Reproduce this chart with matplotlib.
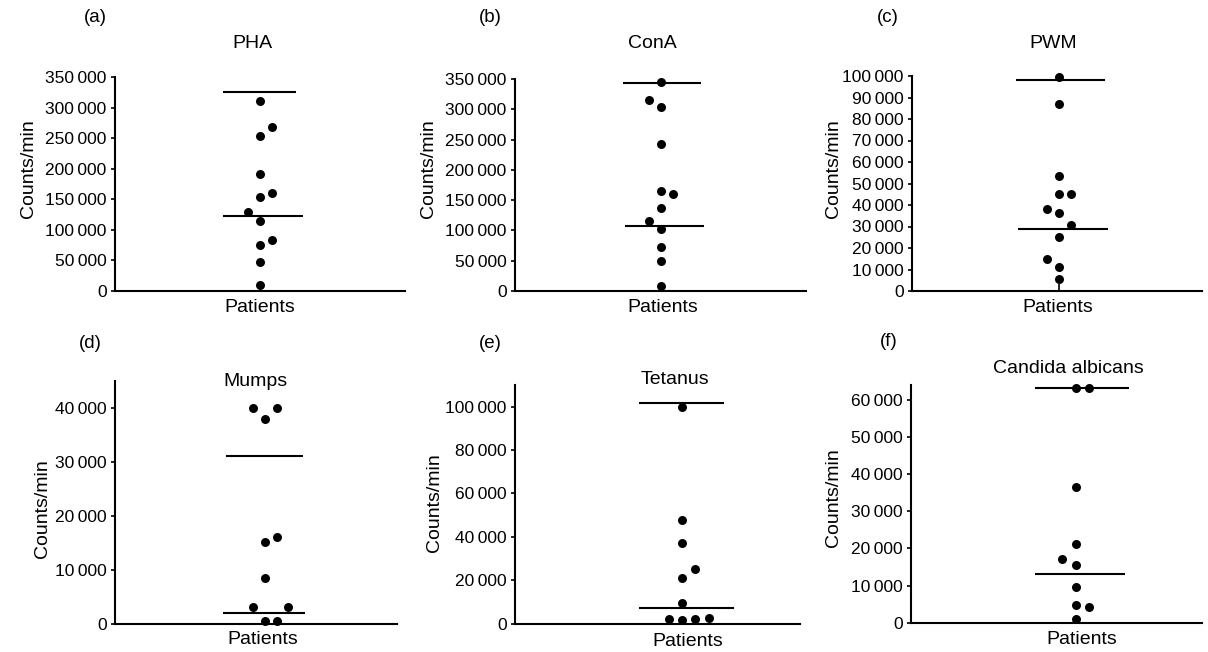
import matplotlib
matplotlib.use("Agg")
import matplotlib.pyplot as plt
import numpy as np

plt.rcParams['font.family'] = ['Liberation Sans', 'DejaVu Sans']

# ---------------- data ----------------
panel_letters = ["(a)", "(b)", "(c)", "(d)", "(e)", "(f)"]
titles = ["PHA", "ConA", "PWM", "Mumps", "Tetanus", "Candida albicans"]
group_label = "Patients"
y_label = "Counts/min"

pha_values = [311000, 269000, 254000, 191000, 160000, 153000, 129000, 115000, 83500, 76000, 47000, 10000]
pha_cols = [0, 1, 0, 0, 1, 0, -1, 0, 1, 0, 0, 0]
pha_lines = [325000, 123000]

cona_values = [345000, 316000, 303000, 243000, 165000, 160000, 137000, 116000, 102000, 73000, 50000, 8000]
cona_cols = [0, -1, 0, 0, 0, 1, 0, -1, 0, 0, 0, 0]
cona_lines = [343000, 108000]

pwm_values = [99400, 87000, 53500, 45000, 45000, 38000, 36500, 30700, 25000, 14900, 11000, 5400]
pwm_cols = [0, 0, 0, 0, 1, -1, 0, 1, 0, -1, 0, 0]
pwm_lines = [98000, 28700]

mumps_values = [40000, 40000, 38000, 16000, 15200, 8500, 3000, 3100, 500, 500]
mumps_cols = [-1, 1, 0, 1, 0, 0, -1, 2, 0, 1]
mumps_lines = [31000, 2000]

tetanus_values = [100000, 47900, 36900, 25000, 20800, 9300, 2000, 1500, 2300, 2600]
tetanus_cols = [0, 0, 0, 1, 0, 0, -1, 0, 1, 2]
tetanus_lines = [101500, 7300]

candida_values = [63200, 63200, 36600, 21100, 17250, 15450, 9600, 4900, 4200, 1100]
candida_cols = [0, 1, 0, 0, -1, 0, 0, 0, 1, 0]
candida_lines = [63200, 13000]

pha_ticks = [0, 50000, 100000, 150000, 200000, 250000, 300000, 350000]
cona_ticks = [0, 50000, 100000, 150000, 200000, 250000, 300000, 350000]
pwm_ticks = [0, 10000, 20000, 30000, 40000, 50000, 60000, 70000, 80000, 90000, 100000]
mumps_ticks = [0, 10000, 20000, 30000, 40000]
tetanus_ticks = [0, 20000, 40000, 60000, 80000, 100000]
candida_ticks = [0, 10000, 20000, 30000, 40000, 50000, 60000]

# ---------------- layout (pixels) ----------------
W, H = 1208, 652
fig = plt.figure(figsize=(W / 100, H / 100), dpi=100)

def fx(px):
    return px / W

def fy(py):
    return 1 - py / H

panels = [
    dict(vals=pha_values, cols=pha_cols, lines=pha_lines, ticks=pha_ticks, ymax=350000,
         left=115, right=405, top=77, bottom=291, center=260, sp=11.7,
         lext=[(-3.2, 3.1), (-3.2, 3.66)],
         title=(252, 43), letter=(95, 18), ylab=(28, 169), pat=(260, 307)),
    dict(vals=cona_values, cols=cona_cols, lines=cona_lines, ticks=cona_ticks, ymax=350000,
         left=515, right=806, top=79, bottom=291, center=660.7, sp=12,
         lext=[(-3.17, 3.36), (-2.97, 3.61)],
         title=(652, 43), letter=(490, 18), ylab=(428, 169), pat=(663, 307)),
    dict(vals=pwm_values, cols=pwm_cols, lines=pwm_lines, ticks=pwm_ticks, ymax=100000,
         left=912, right=1202, top=76, bottom=291, center=1059, sp=12,
         lext=[(-3.56, 3.83), (-3.42, 4.08)],
         title=(1053, 43), letter=(888, 18), ylab=(833, 169), pat=(1058, 307)),
    dict(vals=mumps_values, cols=mumps_cols, lines=mumps_lines, ticks=mumps_ticks, ymax=45000,
         left=115, right=397, top=381, bottom=623.5, center=265, sp=11.7,
         lext=[(-3.34, 3.23), (-3.63, 3.43)],
         title=(255, 381), letter=(90, 343), ylab=(42, 509), pat=(263, 639)),
    dict(vals=tetanus_values, cols=tetanus_cols, lines=tetanus_lines, ticks=tetanus_ticks, ymax=110000,
         left=515, right=800, top=385, bottom=623.5, center=682, sp=13.3,
         lext=[(-3.25, 3.13), (-3.23, 3.9)],
         title=(675, 379), letter=(490, 343), ylab=(435, 503), pat=(688, 641)),
    dict(vals=candida_values, cols=candida_cols, lines=candida_lines, ticks=candida_ticks, ymax=64000,
         left=911, right=1202, top=385, bottom=622.7, center=1075.7, sp=13.3,
         lext=[(-3.05, 4.03), (-3.05, 3.7)],
         title=(1068, 369), letter=(889, 341), ylab=(833, 498), pat=(1082, 639)),
]

def fmt(v):
    s = f"{int(v):,}"
    return s.replace(",", "\u2009")

for i, p in enumerate(panels):
    ax = fig.add_axes([fx(p['left']), fy(p['bottom']),
                       fx(p['right'] - p['left']), (p['bottom'] - p['top']) / H])
    xl = (p['left'] - p['center']) / p['sp']
    xr = (p['right'] - p['center']) / p['sp']
    ax.set_xlim(xl, xr)
    ax.set_ylim(0, p['ymax'])
    ax.scatter(p['cols'], p['vals'], s=42, color='black', zorder=3, linewidths=0, clip_on=False)
    for val, (a, b) in zip(p['lines'], p['lext']):
        ax.plot([a, b], [val, val], color='black', lw=1.5, solid_capstyle='butt', zorder=2, clip_on=False)
    for side in ['top', 'right']:
        ax.spines[side].set_visible(False)
    for side in ['left', 'bottom']:
        ax.spines[side].set_linewidth(1.5)
    ax.set_yticks(p['ticks'])
    ax.set_yticklabels([fmt(t) for t in p['ticks']])
    ax.tick_params(axis='y', direction='out', length=3, width=1.2, labelsize=12.5, pad=3)
    ax.set_xticks([0])
    ax.set_xticklabels([""])
    ax.tick_params(axis='x', direction='in', length=5, width=1.2)
    ax.patch.set_alpha(0)

    fig.text(fx(p['pat'][0]), fy(p['pat'][1]), group_label, ha='center', va='center', fontsize=14)
    fig.text(fx(p['title'][0]), fy(p['title'][1]), titles[i], ha='center', va='center', fontsize=14)
    fig.text(fx(p['letter'][0]), fy(p['letter'][1]), panel_letters[i], ha='center', va='center', fontsize=13.5)
    fig.text(fx(p['ylab'][0]), fy(p['ylab'][1]), y_label, ha='center', va='center', fontsize=14, rotation=90)

fig.savefig("out.png", dpi=100, facecolor='white')
